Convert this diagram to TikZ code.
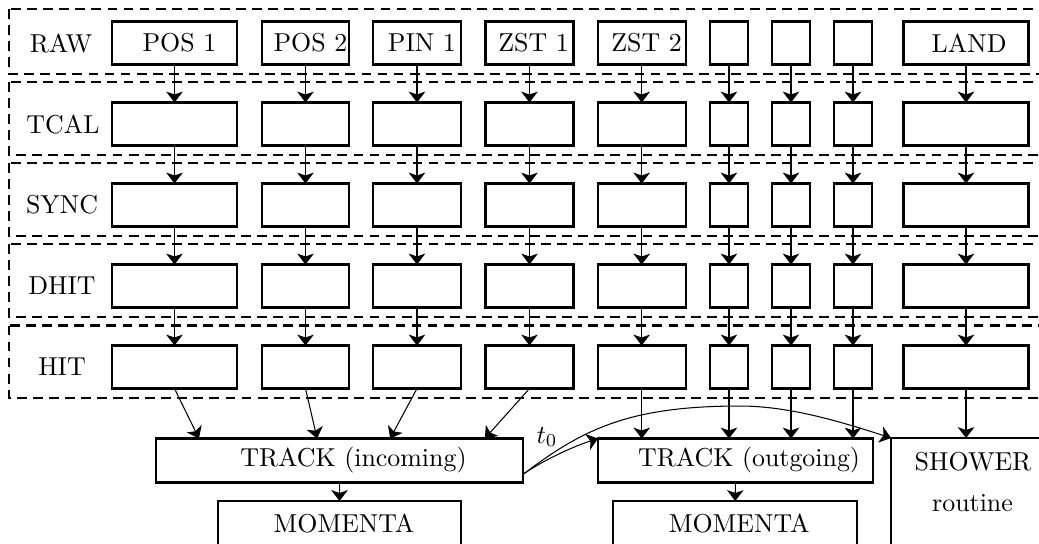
\documentclass[tikz,border=0pt]{standalone}
\usetikzlibrary{arrows.meta,calc}
\newcommand{\pxunit}{0.3861pt}
\begin{document}
\begin{tikzpicture}[x=0.3861pt,y=-0.3861pt,
  box/.style={draw, line width=0.9pt, rectangle, minimum height=43*\pxunit, inner sep=0pt, outer sep=0pt},
  layer/.style={draw, line width=0.85pt, dash pattern=on 3.8pt off 2.4pt},
  arr/.style={-{Stealth[length=4.2pt,width=6.4pt,inset=1.1pt]}, line width=0.4pt},
  lbl/.style={inner sep=0pt}]
\clip (0,0) rectangle (1039,543);
% dashed layers
\draw[layer] (9,9) rectangle (1050,74);
\draw[layer] (9,82) rectangle (1050,155);
\draw[layer] (9,163) rectangle (1050,236);
\draw[layer] (9,244) rectangle (1050,317);
\draw[layer] (9,325.5) rectangle (1050,398);
% layer labels
\node[lbl] (lraw) at (61,43) {RAW};
\node[lbl] (ltcal) at (63,124) {TCAL};
\node[lbl] (lsync) at (62,205) {SYNC};
\node[lbl] (ldhit) at (62,286) {DHIT};
\node[lbl] (lhit) at (62,367) {HIT};
% RAW row
\node[box, minimum width=125*\pxunit] (r1) at (174.5,43) {\hspace*{3.8pt}POS 1};
\node[box, minimum width=87*\pxunit] (r2) at (305.5,43) {\hspace*{3.8pt}POS 2};
\node[box, minimum width=88*\pxunit] (r3) at (417,43) {\hspace*{3.8pt}PIN 1};
\node[box, minimum width=88*\pxunit] (r4) at (529.5,43) {\hspace*{3.2pt}ZST 1};
\node[box, minimum width=88*\pxunit] (r5) at (641.7,43) {\hspace*{3.8pt}ZST 2};
\node[box, minimum width=38*\pxunit] (r6) at (729,43) {};
\node[box, minimum width=38*\pxunit] (r7) at (791,43) {};
\node[box, minimum width=38*\pxunit] (r8) at (853,43) {};
\node[box, minimum width=125*\pxunit] (r9) at (966,43) {\hspace*{2.4pt}LAND};
% other rows
\foreach \r/\y in {t/124, s/205, d/286, h/367} {
  \foreach \n/\x/\w in {1/174.5/125, 2/305.5/87, 3/417/88, 4/529.5/88, 5/641.7/88, 6/729/38, 7/791/38, 8/853/38, 9/966/125} {
    \node[box, minimum width=\w*\pxunit] (\r\n) at (\x,\y) {};
  }
}
% vertical arrows between rows
\foreach \n in {1,...,9} {
  \draw[arr] (r\n) -- (t\n);
  \draw[arr] (t\n) -- (s\n);
  \draw[arr] (s\n) -- (d\n);
  \draw[arr] (d\n) -- (h\n);
}
% bottom boxes
\node[box, minimum width=367*\pxunit, minimum height=44*\pxunit] (tin) at (339.5,460.5) {\hspace*{10.8pt}TRACK (incoming)};
\node[box, minimum width=275*\pxunit, minimum height=44*\pxunit] (tout) at (735.5,460.5) {\hspace*{10.5pt}TRACK (outgoing)};
\node[box, minimum width=243*\pxunit, minimum height=44*\pxunit] (mom1) at (339.5,523) {\hspace*{3.5pt}MOMENTA};
\node[box, minimum width=244*\pxunit, minimum height=44*\pxunit] (mom2) at (735,523) {\hspace*{3.2pt}MOMENTA};
\node[box, minimum width=164*\pxunit, minimum height=122*\pxunit, anchor=north west] (shower) at (891,438) {};
\node[lbl, anchor=base] (sh1) at (973,470) {SHOWER};
\node[lbl, anchor=base] (sh2) at (972.5,511.7) {routine};
% HIT -> tracks
\draw[arr] (h1.south) -- ($(tin.north west)!0.117!(tin.north east)$);
\draw[arr] (h2.south) -- ($(tin.north west)!0.439!(tin.north east)$);
\draw[arr] (h3.south) -- ($(tin.north west)!0.638!(tin.north east)$);
\draw[arr] (h4.south) -- ($(tin.north west)!0.896!(tin.north east)$);
\foreach \n in {5,6,7,8} {
  \draw[arr] (h\n.south) -- (h\n.south |- tout.north);
}
\draw[arr] (h9.south) -- (h9.south |- shower.north);
% track -> momenta
\draw[arr] (tin) -- (mom1);
\draw[arr] (tout) -- (mom2);
% t0 curves
\coordinate (t0start) at ($(tin.south east)+(0.5,-8.5)$);
\coordinate (t0peak) at (740,406);
\draw[arr] (t0start) .. controls ($(t0start)+(20.5,-14.3)$) and ($(tout.north west)+(-23.8,7.7)$) .. (tout.north west);
\draw[arr] (t0start) .. controls ($(t0start)+(60,-45.5)$) and ($(t0peak)+(-110,0)$) .. (t0peak)
  .. controls ($(t0peak)+(50,0)$) and ($(shower.north west)+(-47.6,-15.5)$) .. (shower.north west);
\node[lbl] (t0lab) at (547,437) {$t_0$};
\end{tikzpicture}
\end{document}
